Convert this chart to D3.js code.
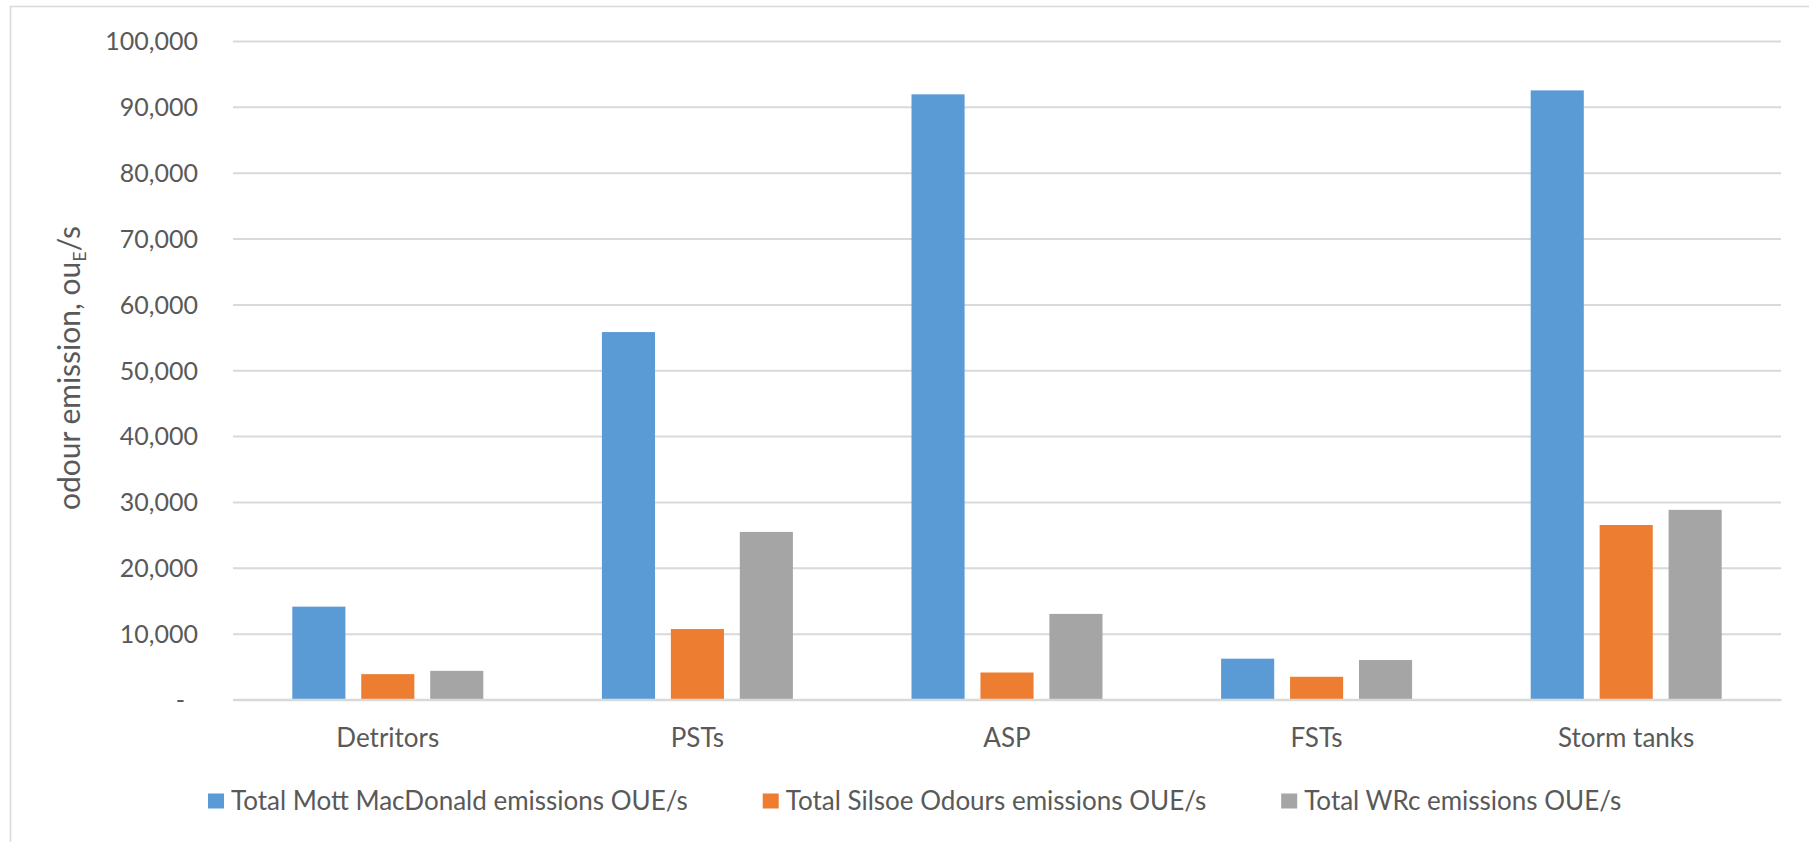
<!DOCTYPE html>
<html>
<head>
<meta charset="utf-8">
<script src="https://cdn.jsdelivr.net/npm/d3@7"></script>
<style>
  html, body { margin: 0; padding: 0; background: #ffffff; }
  svg { display: block; }
  text { font-family: Lato, "Open Sans", sans-serif; fill: #595959; }
</style>
</head>
<body>
<svg id="chart" width="1809" height="842"></svg>
<script>
// Treatment stages along the x axis
const categories = ["Detritors", "PSTs", "ASP", "FSTs", "Storm tanks"];

// Series names as shown in the legend
const seriesNames = [
  "Total Mott MacDonald emissions OUE/s",
  "Total Silsoe Odours emissions OUE/s",
  "Total WRc emissions OUE/s"
];

// Odour emission per stage, ouE/s
const mottMacDonald = [14100, 55800, 91900, 6200, 92500];
const silsoeOdours  = [3850, 10700, 4100, 3450, 26500];
const wrc           = [4350, 25450, 13000, 6000, 28800];

// Y axis ticks
const yTicks = [0, 10000, 20000, 30000, 40000, 50000, 60000, 70000, 80000, 90000, 100000];

const seriesValues = [mottMacDonald, silsoeOdours, wrc];
const colors = ["#5b9bd5", "#ed7d31", "#a5a5a5"];

const W = 1809, H = 842;
const plot = { left: 233, right: 1781, top: 41, bottom: 699.5 };
const tickFont = 25, labelFont = 26;

const svg = d3.select("#chart");

// Outer chart-area border
svg.append("rect")
  .attr("x", 10.5).attr("y", 6.5)
  .attr("width", W + 20).attr("height", H + 20)
  .attr("fill", "none").attr("stroke", "#d9d9d9").attr("stroke-width", 1.5);

const y = d3.scaleLinear().domain([0, 100000]).range([plot.bottom, plot.top]);

const x0 = d3.scaleBand().domain(categories).range([plot.left, plot.right]).padding(0);
const groupW = 191;
const x1 = d3.scaleBand()
  .domain(d3.range(seriesNames.length))
  .range([(x0.bandwidth() - groupW) / 2, (x0.bandwidth() + groupW) / 2])
  .paddingInner(0.23).paddingOuter(0);

// Value axis with gridlines
const yAxis = d3.axisLeft(y)
  .tickValues(yTicks)
  .tickSize(-(plot.right - plot.left))
  .tickFormat(d => d === 0 ? "-" : d3.format(",")(d));

const gy = svg.append("g")
  .attr("transform", `translate(${plot.left},0)`)
  .call(yAxis);
gy.select(".domain").remove();
gy.selectAll(".tick line").attr("stroke", "#d9d9d9").attr("stroke-width", 2);
gy.selectAll(".tick text")
  .attr("x", d => d === 0 ? -48 : -35)
  .attr("dy", "0.35em")
  .attr("font-size", tickFont)
  .style("fill", "#595959");

// Bars
const groups = svg.append("g").selectAll("g")
  .data(categories)
  .join("g")
  .attr("transform", d => `translate(${x0(d)},0)`);

groups.selectAll("rect")
  .data((c, i) => seriesValues.map((vals, s) => ({ s, v: vals[i] })))
  .join("rect")
  .attr("x", d => x1(d.s))
  .attr("width", x1.bandwidth())
  .attr("y", d => y(d.v))
  .attr("height", d => y(0) - y(d.v))
  .attr("fill", d => colors[d.s]);

// Category axis
const xAxis = d3.axisBottom(x0).tickSize(0).tickPadding(0);
const gx = svg.append("g")
  .attr("transform", `translate(0,${plot.bottom})`)
  .call(xAxis);
gx.select(".domain").attr("stroke", "#d9d9d9").attr("stroke-width", 2.5);
gx.selectAll(".tick text")
  .attr("y", 38)
  .attr("dy", "0.35em")
  .attr("font-size", labelFont)
  .style("fill", "#595959");

// Y axis title with subscript E
const title = svg.append("text")
  .attr("transform", `translate(80,368) rotate(-90)`)
  .attr("text-anchor", "middle")
  .attr("font-size", 30);
title.append("tspan").text("odour emission, ou");
title.append("tspan").attr("font-size", 18).attr("dy", 6).text("E");
title.append("tspan").attr("dy", -6).text("/s");

// Legend laid out left to right: swatch, label, gap
const swatch = 16, swatchGap = 7, itemGap = 75;
const legend = svg.append("g").attr("transform", "translate(208,801)");
let cursor = 0;
seriesNames.forEach((name, i) => {
  const item = legend.append("g").attr("transform", `translate(${cursor},0)`);
  item.append("rect")
    .attr("x", 0).attr("y", -7.5)
    .attr("width", swatch).attr("height", 15)
    .attr("fill", colors[i]);
  const label = item.append("text")
    .attr("x", swatch + swatchGap)
    .attr("dy", "0.35em")
    .attr("font-size", labelFont)
    .text(name);
  cursor += swatch + swatchGap + label.node().getComputedTextLength() + itemGap;
});
</script>
</body>
</html>
